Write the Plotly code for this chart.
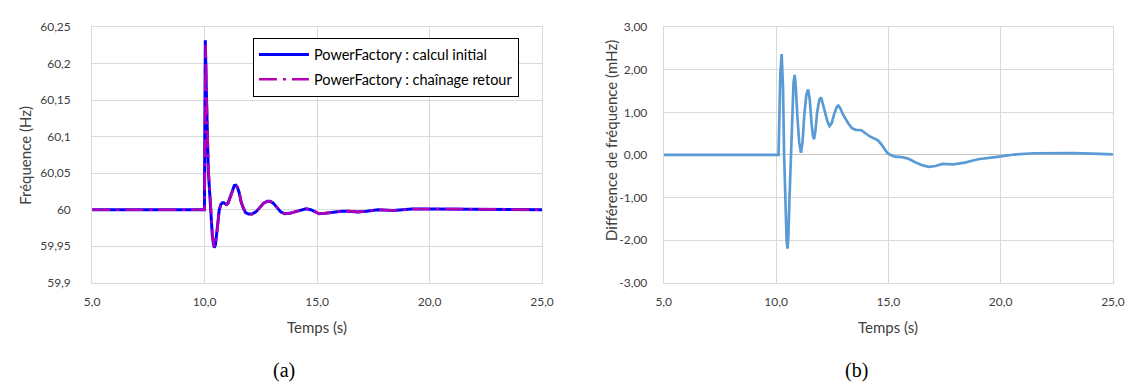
import plotly.graph_objects as go

# ---------------- data ----------------
t_init = [5.0, 9.99, 10.01, 10.03, 10.07, 10.11, 10.16, 10.21, 10.28, 10.34, 10.39, 10.43, 10.48,
          10.53, 10.58, 10.65, 10.72, 10.79, 10.84, 10.90, 10.97, 11.04, 11.13, 11.24, 11.32, 11.38,
          11.45, 11.53, 11.62, 11.72, 11.82, 11.95, 12.10, 12.28, 12.45, 12.62, 12.78, 12.91, 13.05,
          13.20, 13.38, 13.56, 13.78, 14.00, 14.25, 14.51, 14.72, 14.90, 15.09, 15.35, 15.60, 15.82,
          16.10, 16.40, 16.80, 17.20, 17.70, 18.40, 19.20, 20.20, 21.20, 22.20, 23.50, 25.0]
f_init = [60.0, 60.0, 60.12, 60.232, 60.17, 60.096, 60.055, 60.030, 59.990, 59.965, 59.953, 59.948, 59.952,
          59.968, 59.987, 60.000, 60.007, 60.0095, 60.0095, 60.008, 60.007, 60.009, 60.017, 60.028, 60.033, 60.0335,
          60.031, 60.024, 60.0106, 60.002, 59.996, 59.994, 59.994, 59.997, 60.003, 60.009, 60.0115, 60.0115, 60.009,
          60.003, 59.997, 59.9944, 59.995, 59.997, 59.9995, 60.0013, 60.000, 59.997, 59.9944, 59.995, 59.9962, 59.9968,
          59.998, 59.998, 59.997, 59.998, 60.000, 59.999, 60.001, 60.001, 60.001, 60.000, 60.000, 60.000]

t_ret = [5.0, 10.00, 10.02, 10.045, 10.08, 10.12, 10.17, 10.22, 10.29, 10.35, 10.40, 10.44, 10.49,
         10.54, 10.59, 10.66, 10.73, 10.80, 10.85, 10.91, 10.98, 11.05, 11.14, 11.25, 11.33, 11.39,
         11.46, 11.54, 11.63, 11.73, 11.83, 11.96, 12.11, 12.29, 12.46, 12.63, 12.79, 12.92, 13.06,
         13.21, 13.39, 13.57, 13.79, 14.01, 14.26, 14.52, 14.73, 14.91, 15.10, 15.36, 15.61, 15.83,
         16.11, 16.41, 16.81, 17.21, 17.71, 18.41, 19.21, 20.21, 21.21, 22.21, 23.51, 25.0]
f_ret = [60.0, 60.0, 60.11, 60.226, 60.16, 60.094, 60.054, 60.030, 59.990, 59.965, 59.953, 59.949, 59.953,
         59.968, 59.987, 60.000, 60.007, 60.0093, 60.0093, 60.008, 60.007, 60.009, 60.017, 60.028, 60.0325, 60.033,
         60.0305, 60.0235, 60.0104, 60.002, 59.996, 59.994, 59.994, 59.997, 60.003, 60.009, 60.0112, 60.0112, 60.009,
         60.003, 59.997, 59.9945, 59.995, 59.997, 59.9995, 60.0012, 60.000, 59.997, 59.9945, 59.995, 59.9962, 59.9968,
         59.998, 59.998, 59.997, 59.998, 60.000, 59.999, 60.001, 60.001, 60.001, 60.000, 60.000, 60.000]

t_diff = [5.0, 10.11, 10.15, 10.19, 10.25, 10.31, 10.36, 10.42, 10.47, 10.51, 10.55, 10.60, 10.66,
          10.72, 10.78, 10.83, 10.88, 10.95, 11.03, 11.11, 11.18, 11.26, 11.35, 11.43, 11.50, 11.58,
          11.64, 11.69, 11.75, 11.83, 11.93, 12.01, 12.08, 12.14, 12.20, 12.28, 12.38, 12.48, 12.60,
          12.70, 12.77, 12.86, 12.98, 13.10, 13.22, 13.38, 13.55, 13.80, 14.00, 14.16, 14.35, 14.52,
          14.66, 14.80, 14.95, 15.10, 15.30, 15.60, 15.90, 16.20, 16.50, 16.80, 17.10, 17.40, 17.90,
          18.40, 19.00, 19.85, 20.60, 21.50, 22.30, 23.20, 24.10, 25.0]
d_diff = [0.0, 0.0, 0.9, 1.9, 2.37, 1.6, 0.0, -1.4, -2.0, -2.20, -1.9, -1.0, 0.0,
          1.0, 1.7, 1.88, 1.6, 0.9, 0.3, 0.05, 0.3, 0.95, 1.42, 1.54, 1.3, 0.75,
          0.45, 0.37, 0.55, 1.0, 1.3, 1.35, 1.22, 1.05, 0.98, 0.80, 0.68, 0.75, 0.98,
          1.12, 1.16, 1.10, 0.95, 0.83, 0.74, 0.63, 0.59, 0.58, 0.50, 0.44, 0.39, 0.35,
          0.27, 0.15, 0.05, 0.0, -0.04, -0.05, -0.09, -0.17, -0.24, -0.28, -0.26, -0.21, -0.22,
          -0.18, -0.10, -0.045, 0.01, 0.04, 0.05, 0.045, 0.03, 0.015]

x_ticks = [5, 10, 15, 20, 25]
x_ticktext = ["5,0", "10,0", "15,0", "20,0", "25,0"]
yl_ticks = [59.9, 59.95, 60.0, 60.05, 60.1, 60.15, 60.2, 60.25]
yl_ticktext = ["59,9", "59,95", "60", "60,05", "60,1", "60,15", "60,2", "60,25"]
yr_ticks = [-3, -2, -1, 0, 1, 2, 3]
yr_ticktext = ["-3,00", "-2,00", "-1,00", "0,00", "1,00", "2,00", "3,00"]

name_init = "PowerFactory : calcul initial"
name_ret = "PowerFactory : chaînage retour"

# ---------------- figure ----------------
W, H = 1144, 389
FONT = "Lato, 'Open Sans', sans-serif"
TXT = "#404040"
GRID = "#d9d9d9"

fig = go.Figure()
fig.add_trace(go.Scatter(x=t_init, y=f_init, mode="lines", name=name_init,
                         line=dict(color="#0000FF", width=3), xaxis="x", yaxis="y",
                         legendgroup="a"))
fig.add_trace(go.Scatter(x=t_ret, y=f_ret, mode="lines", name=name_ret,
                         line=dict(color="#B400B4", width=2.6, dash="18px,6px,3px,6px"),
                         xaxis="x", yaxis="y", legendgroup="b"))
fig.add_trace(go.Scatter(x=t_diff, y=d_diff, mode="lines", showlegend=False,
                         line=dict(color="#5B9BD5", width=2.7), xaxis="x2", yaxis="y2"))

def px_x(p):
    return p / W

def px_y(p):
    return 1 - p / H

ydom = [px_y(285.7), px_y(20)]
common_axis = dict(showgrid=True, gridcolor=GRID, gridwidth=1, showline=True, linecolor=GRID,
                   linewidth=1, mirror=True, ticks="", zeroline=False,
                   tickfont=dict(family=FONT, size=12, color=TXT))

fig.update_layout(
    width=W, height=H, autosize=False,
    margin=dict(l=0, r=0, t=0, b=0),
    paper_bgcolor="white", plot_bgcolor="white",
    font=dict(family=FONT, color=TXT),
    xaxis=dict(domain=[px_x(85.7), px_x(543.5)], range=[5, 25], anchor="y",
               tickvals=x_ticks, ticktext=x_ticktext, ticklabelstandoff=8, **common_axis),
    yaxis=dict(domain=ydom, range=[59.9, 60.25], anchor="x",
               tickvals=yl_ticks, ticktext=yl_ticktext, ticklabelstandoff=18, **common_axis),
    xaxis2=dict(domain=[px_x(667.4), px_x(1124.6)], range=[5, 25], anchor="y2",
                tickvals=x_ticks, ticktext=x_ticktext, ticklabelstandoff=8, **common_axis),
    yaxis2=dict(domain=ydom, range=[-3, 3], anchor="x2",
                tickvals=yr_ticks, ticktext=yr_ticktext, ticklabelstandoff=13,
                **{**common_axis, "zeroline": True, "zerolinecolor": "#c6c6c6", "zerolinewidth": 1.3}),
    legend=dict(x=px_x(249.3), y=px_y(30.7), xanchor="left", yanchor="top",
                bgcolor="white", bordercolor="#000000", borderwidth=1,
                font=dict(family=FONT, size=14.5, color="#000000"),
                itemwidth=50, entrywidth=282, entrywidthmode="pixels",
                tracegroupgap=3, traceorder="grouped"),
    showlegend=True,
)

annots = [
    dict(text="Fréquence (Hz)", x=px_x(17), y=px_y(153), textangle=-90, size=15),
    dict(text="Temps (s)", x=px_x(314.6), y=px_y(332), textangle=0, size=15),
    dict(text="Différence de fréquence (mHz)", x=px_x(613), y=px_y(138), textangle=-90, size=15),
    dict(text="Temps (s)", x=px_x(896), y=px_y(332), textangle=0, size=15),
]
for a in annots:
    fig.add_annotation(text=a["text"], x=a["x"], y=a["y"], xref="paper", yref="paper",
                       showarrow=False, textangle=a["textangle"], xanchor="center", yanchor="middle",
                       font=dict(family=FONT, size=a["size"], color=TXT))

for cap, cx in [("(a)", 281), ("(b)", 864)]:
    fig.add_annotation(text=cap, x=px_x(cx), y=px_y(377), xref="paper", yref="paper",
                       showarrow=False, xanchor="center", yanchor="middle",
                       font=dict(family="'Liberation Serif', 'DejaVu Serif', serif", size=20,
                                 color="#000000"))

# remove the default 8px body margin so the figure sits at the page origin
fig.write_html("out.html", config={"displayModeBar": False},
               post_script="document.body.style.margin='0';document.body.style.overflow='hidden';")
